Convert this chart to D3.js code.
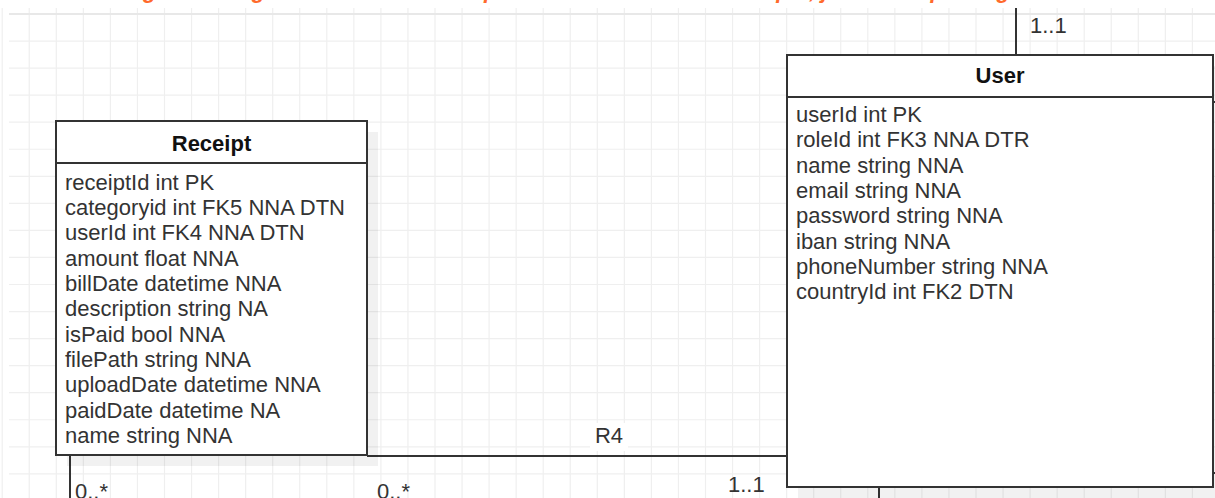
<!DOCTYPE html>
<html>
<head>
<meta charset="utf-8">
<script src="https://cdn.jsdelivr.net/npm/d3@7"></script>
<style>
  body { margin: 0; background: #fff; }
  svg { display: block; font-family: "Liberation Sans", Arial, sans-serif; }
</style>
</head>
<body>
<svg width="1215" height="498"></svg>
<script>
// entities and their attributes
var receiptFields = [
    "receiptId int PK",
    "categoryid int FK5 NNA DTN",
    "userId int FK4 NNA DTN",
    "amount float NNA",
    "billDate datetime NNA",
    "description string NA",
    "isPaid bool NNA",
    "filePath string NNA",
    "uploadDate datetime NNA",
    "paidDate datetime NA",
    "name string NNA"
];
var userFields = [
    "userId int PK",
    "roleId int FK3 NNA DTR",
    "name string NNA",
    "email string NNA",
    "password string NNA",
    "iban string NNA",
    "phoneNumber string NNA",
    "countryId int FK2 DTN"
];
var relationLabels = ["R4"];
var multiplicities = ["1..1", "0..*", "0..*", "1..1"];
var note = "Der Diagramm zeigt Benutzer und Receipts: ein User hat viele Receipts, jede Receipt hat genau einen User";

var svg = d3.select("svg"),
    width = 1215,
    height = 498;

// background grid
var gridX = d3.range(2.2, width, 27.05),
    gridY = d3.range(14, height, 27.05);

var grid = svg.append("g").attr("class", "grid");
grid.selectAll(".gx")
    .data(gridX)
    .enter().append("line")
        .attr("x1", function(d) { return d; })
        .attr("x2", function(d) { return d; })
        .attr("y1", 8)
        .attr("y2", height)
        .attr("stroke", "#efefef")
        .attr("stroke-width", 1.2);
grid.selectAll(".gy")
    .data(gridY)
    .enter().append("line")
        .attr("x1", 9)
        .attr("x2", width)
        .attr("y1", function(d) { return d; })
        .attr("y2", function(d) { return d; })
        .attr("stroke", function(d, i) { return i === 0 ? "#e8e8e8" : "#efefef"; })
        .attr("stroke-width", function(d, i) { return i === 0 ? 2 : 1.2; });

// cut-off note at the very top
svg.append("text")
    .attr("x", 66)
    .attr("y", -2)
    .attr("fill", "#ff6a2c")
    .attr("font-size", 22)
    .attr("font-weight", "bold")
    .attr("font-style", "italic")
    .text(note);

var rowStep = 25.35;

function entity(name, fields, box) {
    var rowY = d3.scaleLinear()
        .domain([0, 1])
        .range([box.firstRow, box.firstRow + rowStep]);

    var g = svg.append("g");

    g.append("rect")
        .attr("x", box.x + 11)
        .attr("y", box.y + 11)
        .attr("width", box.w)
        .attr("height", box.h)
        .attr("fill", "rgba(0,0,0,0.055)");

    g.append("rect")
        .attr("x", box.x)
        .attr("y", box.y)
        .attr("width", box.w)
        .attr("height", box.h)
        .attr("fill", "#fff")
        .attr("stroke", "#333")
        .attr("stroke-width", 2);

    g.append("line")
        .attr("x1", box.x)
        .attr("x2", box.x + box.w)
        .attr("y1", box.y + box.head)
        .attr("y2", box.y + box.head)
        .attr("stroke", "#333")
        .attr("stroke-width", 2);

    g.append("text")
        .attr("x", box.x + box.w / 2)
        .attr("y", box.titleY)
        .attr("text-anchor", "middle")
        .attr("font-size", 22)
        .attr("font-weight", "bold")
        .attr("fill", "#111")
        .text(name);

    g.selectAll(".field")
        .data(fields)
        .enter().append("text")
            .attr("class", "field")
            .attr("x", box.x + 9)
            .attr("y", function(d, i) { return rowY(i); })
            .attr("font-size", 22)
            .attr("fill", "#333")
            .text(function(d) { return d; });
}

// connectors drawn first so boxes sit on top
var conn = svg.append("g")
    .attr("fill", "none")
    .attr("stroke", "#333")
    .attr("stroke-width", 2);

conn.append("path").attr("d", "M1016,8V55");
conn.append("path").attr("d", "M70,455V498");
conn.append("path").attr("d", "M367,456H787");
conn.append("path").attr("d", "M879,487V498");
conn.append("path").attr("d", "M1213,102H1215");
conn.append("path").attr("d", "M1213,473H1215");

entity("Receipt", receiptFields, {x: 56, y: 121, w: 311, h: 334, head: 42, titleY: 151, firstRow: 189.5});
entity("User", userFields, {x: 787, y: 55, w: 426, h: 432, head: 42, titleY: 83, firstRow: 122});

// relation label with white background
var r4 = svg.append("g");
r4.append("rect")
    .attr("x", 590).attr("y", 423)
    .attr("width", 38).attr("height", 28)
    .attr("fill", "#fff");
r4.append("text")
    .attr("x", 609)
    .attr("y", 443)
    .attr("text-anchor", "middle")
    .attr("font-size", 22)
    .attr("fill", "#333")
    .text(relationLabels[0]);

// multiplicities
var multPos = [[1030, 33], [75, 499], [377, 499], [728, 492]];
svg.selectAll(".mult")
    .data(multiplicities)
    .enter().append("text")
        .attr("class", "mult")
        .attr("x", function(d, i) { return multPos[i][0]; })
        .attr("y", function(d, i) { return multPos[i][1]; })
        .attr("font-size", 22)
        .attr("fill", "#333")
        .text(function(d) { return d; });
</script>
</body>
</html>
